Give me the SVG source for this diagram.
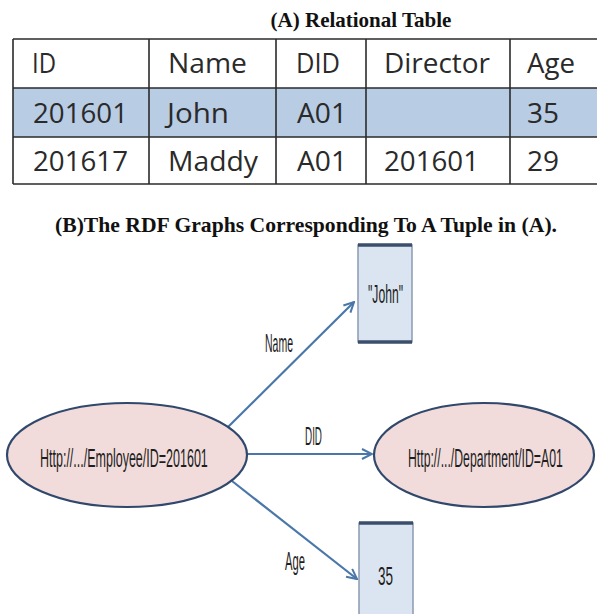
<svg xmlns="http://www.w3.org/2000/svg" width="597" height="614" viewBox="0 0 597 614">
  <defs>
    <style>
      .title { font-family: "Liberation Serif", "Times New Roman", serif; font-weight: bold; font-size: 21px; fill: #111; }
      .cell { font-family: "Open Sans", "Liberation Sans", sans-serif; font-size: 27px; fill: #2a2a2a; }
      .grid { stroke: #2b2b2b; stroke-width: 1.6; fill: none; }
      .lbl { font-family: "Liberation Sans", Arial, sans-serif; font-size: 26px; fill: #1e1e1e; }
      .ell { fill: #f2dcdb; stroke: #30486c; stroke-width: 2.2; }
      .box { fill: #dbe5f1; stroke: #8a9ab3; stroke-width: 1.5; }
      .boxcap { stroke: #3b4e6b; stroke-width: 3.5; }
      .edge { stroke: #4a77a9; stroke-width: 2.2; fill: none; marker-end: url(#arr); }
    </style>
    <marker id="arr" viewBox="0 0 12 12" refX="11" refY="6" markerWidth="12" markerHeight="12" markerUnits="userSpaceOnUse" orient="auto">
      <path d="M1,1 L11,6 L1,11" fill="none" stroke="#4a77a9" stroke-width="2"/>
    </marker>
  </defs>

  <!-- (A) Relational table -->
  <text class="title" x="361" y="27" text-anchor="middle">(A) Relational Table</text>
  <g id="table">
    <rect x="13" y="88" width="584" height="49" fill="#b8cce4"/>
    <path class="grid" d="M13,39 H597 M13,88 H597 M13,137 H597 M13,184 H597 M13,39 V184 M149,39 V184 M276,39 V184 M510,39 V184"/>
    <path class="grid" d="M366,39 V184" stroke-width="2.4"/>
    <text class="cell" x="32" y="73" textLength="24" lengthAdjust="spacingAndGlyphs">ID</text>
    <text class="cell" x="168" y="73" textLength="79" lengthAdjust="spacingAndGlyphs">Name</text>
    <text class="cell" x="296" y="73" textLength="44" lengthAdjust="spacingAndGlyphs">DID</text>
    <text class="cell" x="384" y="73" textLength="106" lengthAdjust="spacingAndGlyphs">Director</text>
    <text class="cell" x="527" y="73" textLength="48" lengthAdjust="spacingAndGlyphs">Age</text>
    <text class="cell" x="33" y="123" textLength="95" lengthAdjust="spacingAndGlyphs">201601</text>
    <text class="cell" x="167" y="123" textLength="62" lengthAdjust="spacingAndGlyphs">John</text>
    <text class="cell" x="297" y="123" textLength="50" lengthAdjust="spacingAndGlyphs">A01</text>
    <text class="cell" x="527" y="123" textLength="32" lengthAdjust="spacingAndGlyphs">35</text>
    <text class="cell" x="33" y="171" textLength="95" lengthAdjust="spacingAndGlyphs">201617</text>
    <text class="cell" x="168" y="171" textLength="90" lengthAdjust="spacingAndGlyphs">Maddy</text>
    <text class="cell" x="297" y="171" textLength="50" lengthAdjust="spacingAndGlyphs">A01</text>
    <text class="cell" x="384" y="171" textLength="95" lengthAdjust="spacingAndGlyphs">201601</text>
    <text class="cell" x="527" y="171" textLength="32" lengthAdjust="spacingAndGlyphs">29</text>
  </g>

  <!-- (B) RDF graph -->
  <text class="title" x="55" y="232" textLength="502" lengthAdjust="spacingAndGlyphs">(B)The RDF Graphs Corresponding To A Tuple in (A).</text>

  <g id="connectors">
    <line class="edge" x1="228" y1="427" x2="354" y2="302"/>
    <line class="edge" x1="247" y1="454" x2="372" y2="454"/>
    <line class="edge" x1="232" y1="481" x2="357" y2="579"/>
    <text class="lbl" transform="translate(265,352) scale(0.404,1)">Name</text>
    <text class="lbl" transform="translate(305,445) scale(0.38,1)">DID</text>
    <text class="lbl" transform="translate(285,570) scale(0.43,1)">Age</text>
  </g>

  <g id="employee">
    <ellipse class="ell" cx="127" cy="455" rx="120" ry="52"/>
    <text class="lbl" transform="translate(40,467) scale(0.481,1)">Http://.../Employee/ID=201601</text>
  </g>

  <g id="department">
    <ellipse class="ell" cx="484" cy="455" rx="110" ry="52"/>
    <text class="lbl" transform="translate(408,467) scale(0.471,1)">Http://.../Department/ID=A01</text>
  </g>

  <g id="john">
    <rect class="box" x="358" y="245" width="54" height="97"/>
    <line class="boxcap" x1="358" y1="245" x2="412" y2="245"/>
    <line class="boxcap" x1="358" y1="342" x2="412" y2="342"/>
    <text class="lbl" transform="translate(368,303) scale(0.468,1)">"John"</text>
  </g>

  <g id="age35">
    <rect class="box" x="359" y="523" width="54" height="100"/>
    <line class="boxcap" x1="359" y1="523" x2="413" y2="523"/>
    <text class="lbl" transform="translate(378,585) scale(0.52,1)">35</text>
  </g>
</svg>
